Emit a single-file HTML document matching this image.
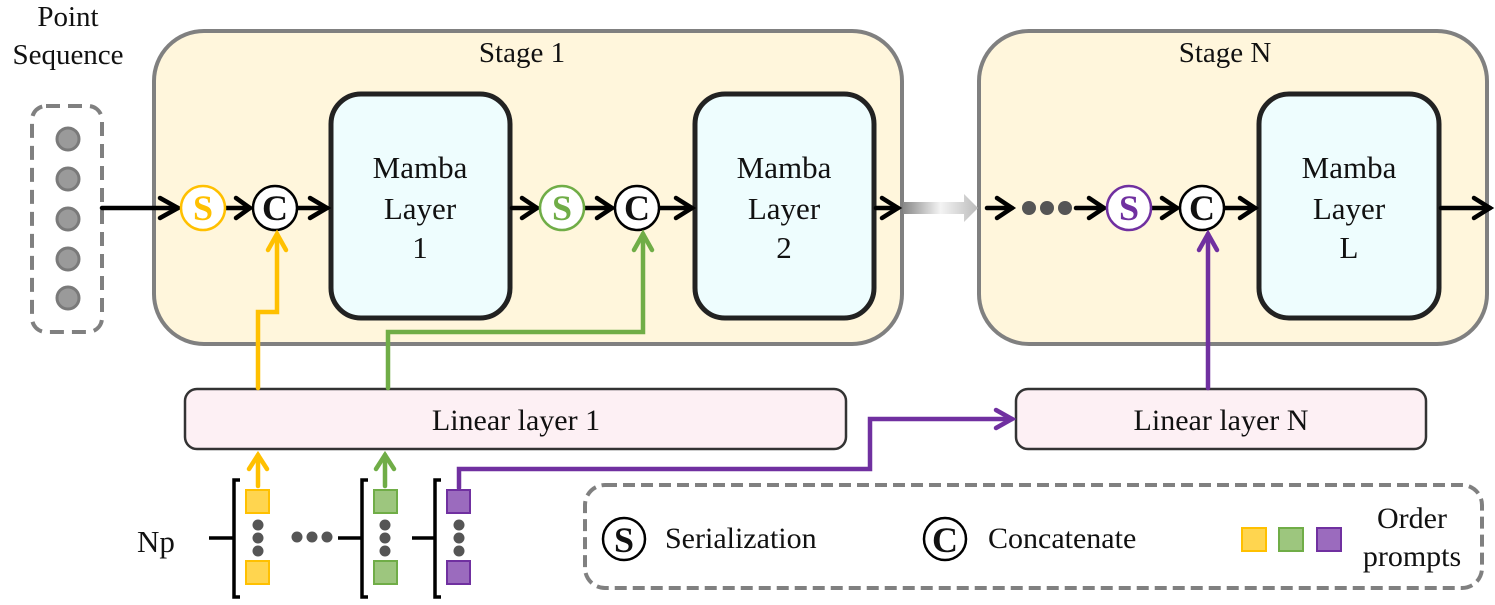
<!DOCTYPE html>
<html><head><meta charset="utf-8"><style>
html,body{margin:0;padding:0;background:#fff;width:1495px;height:605px;overflow:hidden}
svg text{font-family:"Liberation Serif","DejaVu Serif",serif;fill:#111}
</style></head><body>
<svg width="1495" height="605" viewBox="0 0 1495 605" xmlns="http://www.w3.org/2000/svg" font-family="Liberation Serif, DejaVu Serif, serif">
<defs>
<linearGradient id="g" x1="0" x2="1"><stop offset="0" stop-color="#888"/><stop offset="0.5" stop-color="#f4f4f4"/><stop offset="1" stop-color="#bbb"/></linearGradient>
</defs>
<rect x="154" y="31" width="748" height="313" rx="50" fill="#FFF6DC" stroke="#808080" stroke-width="4"/>
<rect x="979" y="31" width="508" height="313" rx="50" fill="#FFF6DC" stroke="#808080" stroke-width="4"/>
<text x="522" y="62" font-size="29" text-anchor="middle">Stage 1</text>
<text x="1225" y="62" font-size="29" text-anchor="middle">Stage N</text>
<text x="68" y="26" font-size="29" text-anchor="middle">Point</text>
<text x="68" y="64" font-size="29" text-anchor="middle">Sequence</text>
<rect x="32" y="106" width="70" height="226" rx="14" fill="none" stroke="#808080" stroke-width="4" stroke-dasharray="14,8"/>
<g fill="#9a9a9a" stroke="#7a7a7a" stroke-width="3">
<circle cx="68" cy="139" r="11"/><circle cx="68" cy="179" r="11"/><circle cx="68" cy="219" r="11"/><circle cx="68" cy="259" r="11"/><circle cx="68" cy="298" r="11"/>
</g>
<g fill="#EEFDFE" stroke="#222" stroke-width="5">
<rect x="331" y="94" width="179" height="224" rx="30"/>
<rect x="695" y="94" width="179" height="224" rx="30"/>
<rect x="1259" y="94" width="180" height="224" rx="30"/>
</g>
<g font-size="31" text-anchor="middle">
<text x="420" y="178">Mamba</text><text x="420" y="219">Layer</text><text x="420" y="258">1</text>
<text x="784" y="178">Mamba</text><text x="784" y="219">Layer</text><text x="784" y="258">2</text>
<text x="1349" y="178">Mamba</text><text x="1349" y="219">Layer</text><text x="1349" y="258">L</text>
</g>
<g stroke="#000" stroke-width="4.5" fill="none" stroke-linecap="round">
<line x1="102" y1="208" x2="178" y2="208"/><polyline points="160,198 178,208 160,218"/>
<line x1="226" y1="208" x2="250" y2="208"/><polyline points="236,198 250,208 236,218"/>
<line x1="298" y1="208" x2="327" y2="208"/><polyline points="310,198 327,208 310,218"/>
<line x1="512" y1="208" x2="537" y2="208"/><polyline points="522,198 537,208 522,218"/>
<line x1="585" y1="208" x2="612" y2="208"/><polyline points="597,198 612,208 597,218"/>
<line x1="660" y1="208" x2="692" y2="208"/><polyline points="676,198 692,208 676,218"/>
<line x1="876" y1="208" x2="898" y2="208"/><polyline points="882,198 898,208 882,218"/>
<line x1="987" y1="208" x2="1012" y2="208"/><polyline points="997,198 1012,208 997,218"/>
<line x1="1076" y1="208" x2="1104" y2="208"/><polyline points="1089,198 1104,208 1089,218"/>
<line x1="1152" y1="208" x2="1177" y2="208"/><polyline points="1162,198 1177,208 1162,218"/>
<line x1="1225" y1="208" x2="1255" y2="208"/><polyline points="1240,198 1255,208 1240,218"/>
<line x1="1441" y1="208" x2="1490" y2="208"/><polyline points="1474,198 1490,208 1474,218"/>
</g>
<polygon points="903,202 964,202 964,194 978,208 964,222 964,214 903,214" fill="url(#g)"/>
<g fill="#555"><circle cx="1029" cy="208" r="7"/><circle cx="1047" cy="208" r="7"/><circle cx="1065" cy="208" r="7"/></g>
<g stroke-width="2.5" fill="#fff">
<circle cx="203" cy="208" r="22" stroke="#FFC000"/>
<circle cx="275" cy="208" r="22" stroke="#000"/>
<circle cx="562" cy="208" r="22" stroke="#70AD47"/>
<circle cx="637" cy="208" r="22" stroke="#000"/>
<circle cx="1129" cy="208" r="22" stroke="#7030A0"/>
<circle cx="1202" cy="208" r="22" stroke="#000"/>
</g>
<g font-size="36" font-weight="bold" text-anchor="middle">
<text x="203" y="220" style="fill:#FFC000">S</text>
<text x="275" y="220">C</text>
<text x="562" y="220" style="fill:#70AD47">S</text>
<text x="637" y="220">C</text>
<text x="1129" y="220" style="fill:#7030A0">S</text>
<text x="1202" y="220">C</text>
</g>
<rect x="185" y="389" width="661" height="60" rx="12" fill="#FDF0F4" stroke="#333" stroke-width="2.5"/>
<rect x="1016" y="389" width="410" height="60" rx="12" fill="#FDF0F4" stroke="#333" stroke-width="2.5"/>
<text x="516" y="430" font-size="30" text-anchor="middle">Linear layer 1</text>
<text x="1221" y="430" font-size="30" text-anchor="middle">Linear layer N</text>
<g fill="none" stroke-width="4.5" stroke-linecap="round" stroke-linejoin="miter">
<polyline points="258,388 258,312 277,312 277,234" stroke="#FFC000"/>
<polyline points="268,250 277,234 286,250" stroke="#FFC000"/>
<polyline points="388,388 388,332 643,332 643,234" stroke="#70AD47"/>
<polyline points="634,250 643,234 652,250" stroke="#70AD47"/>
<polyline points="1208,388 1208,234" stroke="#7030A0"/>
<polyline points="1199,250 1208,234 1217,250" stroke="#7030A0"/>
<polyline points="459,488 459,469 870,469 870,419 1012,419" stroke="#7030A0"/>
<polyline points="996,410 1012,419 996,428" stroke="#7030A0"/>
<line x1="258" y1="486" x2="258" y2="455" stroke="#FFC000"/>
<polyline points="249,469 258,455 267,469" stroke="#FFC000"/>
<line x1="385" y1="486" x2="385" y2="455" stroke="#70AD47"/>
<polyline points="376,469 385,455 394,469" stroke="#70AD47"/>
</g>
<text x="137" y="552" font-size="31">Np</text>
<g stroke="#000" stroke-width="3.5" fill="none">
<line x1="209" y1="538" x2="234" y2="538"/><polyline points="240,480 234,480 234,597 240,597"/>
<line x1="338" y1="538" x2="362" y2="538"/><polyline points="368,480 362,480 362,597 368,597"/>
<line x1="412" y1="538" x2="435" y2="538"/><polyline points="441,480 435,480 435,597 441,597"/>
</g>
<g stroke-width="2">
<rect x="246" y="490" width="23" height="23" fill="#FFD54F" stroke="#FFC000"/>
<rect x="246" y="561" width="23" height="23" fill="#FFD54F" stroke="#FFC000"/>
<rect x="374" y="490" width="23" height="23" fill="#9DC67E" stroke="#70AD47"/>
<rect x="374" y="561" width="23" height="23" fill="#9DC67E" stroke="#70AD47"/>
<rect x="447" y="490" width="23" height="23" fill="#9B6BBE" stroke="#7030A0"/>
<rect x="447" y="561" width="23" height="23" fill="#9B6BBE" stroke="#7030A0"/>
</g>
<g fill="#555">
<circle cx="258" cy="525" r="5.5"/><circle cx="258" cy="538" r="5.5"/><circle cx="258" cy="551" r="5.5"/>
<circle cx="385" cy="525" r="5.5"/><circle cx="385" cy="538" r="5.5"/><circle cx="385" cy="551" r="5.5"/>
<circle cx="459" cy="525" r="5.5"/><circle cx="459" cy="538" r="5.5"/><circle cx="459" cy="551" r="5.5"/>
<circle cx="297" cy="537" r="5.5"/><circle cx="312" cy="537" r="5.5"/><circle cx="327" cy="537" r="5.5"/>
</g>
<rect x="585" y="485" width="897" height="103" rx="20" fill="none" stroke="#808080" stroke-width="4" stroke-dasharray="12,6"/>
<circle cx="624" cy="539" r="21" fill="#fff" stroke="#000" stroke-width="2.5"/>
<text x="624" y="552" font-size="36" font-weight="bold" text-anchor="middle">S</text>
<text x="665" y="548" font-size="30">Serialization</text>
<circle cx="945" cy="539" r="21" fill="#fff" stroke="#000" stroke-width="2.5"/>
<text x="945" y="552" font-size="36" font-weight="bold" text-anchor="middle">C</text>
<text x="988" y="548" font-size="30">Concatenate</text>
<g stroke-width="2">
<rect x="1242" y="528" width="24" height="23" fill="#FFD54F" stroke="#FFC000"/>
<rect x="1279" y="528" width="24" height="23" fill="#9DC67E" stroke="#70AD47"/>
<rect x="1317" y="528" width="24" height="23" fill="#9B6BBE" stroke="#7030A0"/>
</g>
<text x="1412" y="528" font-size="30" text-anchor="middle">Order</text>
<text x="1412" y="566" font-size="30" text-anchor="middle">prompts</text>
</svg>
</body></html>
